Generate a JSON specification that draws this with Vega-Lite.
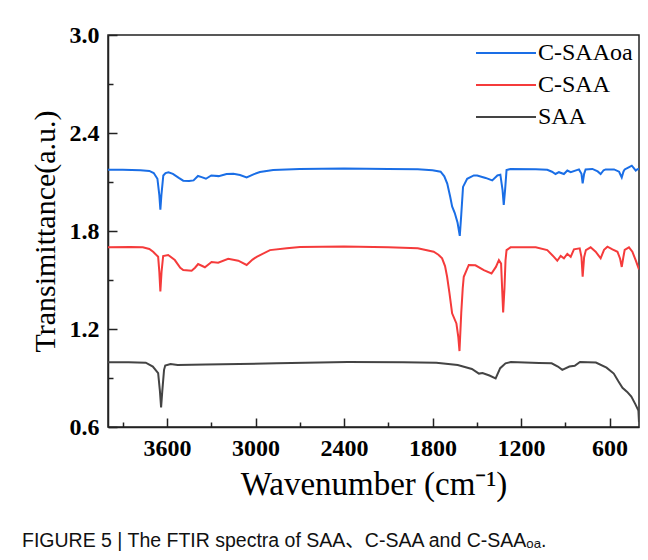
{
  "$schema": "https://vega.github.io/schema/vega-lite/v6.json",
  "width": 531,
  "height": 392,
  "autosize": {"type": "none"},
  "padding": {"left": 108, "top": 35, "right": 9, "bottom": 133},
  "background": "white",
  "config": {"view": {"stroke": "#222", "strokeWidth": 1.5}},
  "title": {
    "text": "FIGURE 5 | The FTIR spectra of SAA、C-SAA and C-SAAₒₐ.",
    "orient": "bottom", "anchor": "start", "frame": "group",
    "font": "Liberation Sans, Noto Sans CJK SC", "fontSize": 19.5, "fontWeight": "normal",
    "color": "#111", "dx": -86, "offset": 31
  },
  "datasets": {
    "spectra": [
      {"s":"C-SAAoa","x":4000,"y":2.175},{"s":"C-SAAoa","x":3900,"y":2.175},{"s":"C-SAAoa","x":3780,"y":2.172},{"s":"C-SAAoa","x":3720,"y":2.168},{"s":"C-SAAoa","x":3690,"y":2.155},{"s":"C-SAAoa","x":3665,"y":2.12},{"s":"C-SAAoa","x":3652,"y":2.02},{"s":"C-SAAoa","x":3645,"y":1.93},{"s":"C-SAAoa","x":3638,"y":2.02},{"s":"C-SAAoa","x":3625,"y":2.14},{"s":"C-SAAoa","x":3610,"y":2.155},{"s":"C-SAAoa","x":3590,"y":2.16},{"s":"C-SAAoa","x":3560,"y":2.15},{"s":"C-SAAoa","x":3520,"y":2.125},{"s":"C-SAAoa","x":3490,"y":2.108},{"s":"C-SAAoa","x":3450,"y":2.106},{"s":"C-SAAoa","x":3420,"y":2.11},{"s":"C-SAAoa","x":3390,"y":2.137},{"s":"C-SAAoa","x":3365,"y":2.13},{"s":"C-SAAoa","x":3336,"y":2.12},{"s":"C-SAAoa","x":3300,"y":2.14},{"s":"C-SAAoa","x":3250,"y":2.136},{"s":"C-SAAoa","x":3196,"y":2.149},{"s":"C-SAAoa","x":3150,"y":2.15},{"s":"C-SAAoa","x":3105,"y":2.143},{"s":"C-SAAoa","x":3060,"y":2.128},{"s":"C-SAAoa","x":3010,"y":2.148},{"s":"C-SAAoa","x":2970,"y":2.161},{"s":"C-SAAoa","x":2880,"y":2.173},{"s":"C-SAAoa","x":2700,"y":2.18},{"s":"C-SAAoa","x":2400,"y":2.183},{"s":"C-SAAoa","x":2100,"y":2.18},{"s":"C-SAAoa","x":1900,"y":2.178},{"s":"C-SAAoa","x":1800,"y":2.172},{"s":"C-SAAoa","x":1745,"y":2.163},{"s":"C-SAAoa","x":1720,"y":2.135},{"s":"C-SAAoa","x":1700,"y":2.09},{"s":"C-SAAoa","x":1680,"y":2.01},{"s":"C-SAAoa","x":1667,"y":1.95},{"s":"C-SAAoa","x":1649,"y":1.91},{"s":"C-SAAoa","x":1630,"y":1.85},{"s":"C-SAAoa","x":1615,"y":1.77},{"s":"C-SAAoa","x":1605,"y":1.9},{"s":"C-SAAoa","x":1593,"y":2.07},{"s":"C-SAAoa","x":1565,"y":2.12},{"s":"C-SAAoa","x":1520,"y":2.14},{"s":"C-SAAoa","x":1497,"y":2.14},{"s":"C-SAAoa","x":1440,"y":2.125},{"s":"C-SAAoa","x":1395,"y":2.11},{"s":"C-SAAoa","x":1360,"y":2.14},{"s":"C-SAAoa","x":1340,"y":2.145},{"s":"C-SAAoa","x":1325,"y":2.05},{"s":"C-SAAoa","x":1317,"y":1.96},{"s":"C-SAAoa","x":1308,"y":2.05},{"s":"C-SAAoa","x":1298,"y":2.173},{"s":"C-SAAoa","x":1271,"y":2.18},{"s":"C-SAAoa","x":1100,"y":2.178},{"s":"C-SAAoa","x":1022,"y":2.175},{"s":"C-SAAoa","x":990,"y":2.163},{"s":"C-SAAoa","x":966,"y":2.149},{"s":"C-SAAoa","x":943,"y":2.16},{"s":"C-SAAoa","x":909,"y":2.149},{"s":"C-SAAoa","x":886,"y":2.17},{"s":"C-SAAoa","x":863,"y":2.16},{"s":"C-SAAoa","x":807,"y":2.177},{"s":"C-SAAoa","x":790,"y":2.15},{"s":"C-SAAoa","x":782,"y":2.092},{"s":"C-SAAoa","x":772,"y":2.15},{"s":"C-SAAoa","x":762,"y":2.177},{"s":"C-SAAoa","x":716,"y":2.18},{"s":"C-SAAoa","x":680,"y":2.165},{"s":"C-SAAoa","x":660,"y":2.149},{"s":"C-SAAoa","x":640,"y":2.172},{"s":"C-SAAoa","x":626,"y":2.177},{"s":"C-SAAoa","x":569,"y":2.177},{"s":"C-SAAoa","x":535,"y":2.163},{"s":"C-SAAoa","x":517,"y":2.128},{"s":"C-SAAoa","x":505,"y":2.165},{"s":"C-SAAoa","x":497,"y":2.177},{"s":"C-SAAoa","x":470,"y":2.19},{"s":"C-SAAoa","x":449,"y":2.2},{"s":"C-SAAoa","x":435,"y":2.185},{"s":"C-SAAoa","x":422,"y":2.17},{"s":"C-SAAoa","x":410,"y":2.178},{"s":"C-SAAoa","x":400,"y":2.18},
      {"s":"C-SAA","x":4000,"y":1.7},{"s":"C-SAA","x":3850,"y":1.702},{"s":"C-SAA","x":3764,"y":1.7},{"s":"C-SAA","x":3720,"y":1.69},{"s":"C-SAA","x":3694,"y":1.673},{"s":"C-SAA","x":3660,"y":1.642},{"s":"C-SAA","x":3652,"y":1.55},{"s":"C-SAA","x":3645,"y":1.43},{"s":"C-SAA","x":3637,"y":1.55},{"s":"C-SAA","x":3626,"y":1.647},{"s":"C-SAA","x":3592,"y":1.653},{"s":"C-SAA","x":3547,"y":1.622},{"s":"C-SAA","x":3510,"y":1.575},{"s":"C-SAA","x":3490,"y":1.561},{"s":"C-SAA","x":3433,"y":1.557},{"s":"C-SAA","x":3410,"y":1.575},{"s":"C-SAA","x":3389,"y":1.598},{"s":"C-SAA","x":3343,"y":1.578},{"s":"C-SAA","x":3298,"y":1.61},{"s":"C-SAA","x":3253,"y":1.606},{"s":"C-SAA","x":3185,"y":1.63},{"s":"C-SAA","x":3117,"y":1.618},{"s":"C-SAA","x":3060,"y":1.592},{"s":"C-SAA","x":3020,"y":1.625},{"s":"C-SAA","x":2992,"y":1.642},{"s":"C-SAA","x":2902,"y":1.683},{"s":"C-SAA","x":2788,"y":1.694},{"s":"C-SAA","x":2698,"y":1.702},{"s":"C-SAA","x":2400,"y":1.705},{"s":"C-SAA","x":2100,"y":1.7},{"s":"C-SAA","x":1900,"y":1.695},{"s":"C-SAA","x":1792,"y":1.673},{"s":"C-SAA","x":1760,"y":1.655},{"s":"C-SAA","x":1735,"y":1.633},{"s":"C-SAA","x":1715,"y":1.585},{"s":"C-SAA","x":1701,"y":1.52},{"s":"C-SAA","x":1685,"y":1.42},{"s":"C-SAA","x":1667,"y":1.296},{"s":"C-SAA","x":1638,"y":1.234},{"s":"C-SAA","x":1625,"y":1.15},{"s":"C-SAA","x":1617,"y":1.065},{"s":"C-SAA","x":1605,"y":1.3},{"s":"C-SAA","x":1595,"y":1.45},{"s":"C-SAA","x":1588,"y":1.52},{"s":"C-SAA","x":1554,"y":1.592},{"s":"C-SAA","x":1509,"y":1.59},{"s":"C-SAA","x":1452,"y":1.56},{"s":"C-SAA","x":1400,"y":1.54},{"s":"C-SAA","x":1370,"y":1.58},{"s":"C-SAA","x":1350,"y":1.622},{"s":"C-SAA","x":1335,"y":1.6},{"s":"C-SAA","x":1328,"y":1.45},{"s":"C-SAA","x":1321,"y":1.302},{"s":"C-SAA","x":1312,"y":1.45},{"s":"C-SAA","x":1305,"y":1.62},{"s":"C-SAA","x":1298,"y":1.683},{"s":"C-SAA","x":1271,"y":1.7},{"s":"C-SAA","x":1100,"y":1.7},{"s":"C-SAA","x":1022,"y":1.683},{"s":"C-SAA","x":977,"y":1.642},{"s":"C-SAA","x":954,"y":1.618},{"s":"C-SAA","x":931,"y":1.647},{"s":"C-SAA","x":909,"y":1.633},{"s":"C-SAA","x":886,"y":1.66},{"s":"C-SAA","x":863,"y":1.642},{"s":"C-SAA","x":841,"y":1.688},{"s":"C-SAA","x":802,"y":1.694},{"s":"C-SAA","x":790,"y":1.64},{"s":"C-SAA","x":782,"y":1.52},{"s":"C-SAA","x":772,"y":1.64},{"s":"C-SAA","x":760,"y":1.683},{"s":"C-SAA","x":728,"y":1.7},{"s":"C-SAA","x":694,"y":1.673},{"s":"C-SAA","x":660,"y":1.633},{"s":"C-SAA","x":637,"y":1.685},{"s":"C-SAA","x":614,"y":1.704},{"s":"C-SAA","x":580,"y":1.688},{"s":"C-SAA","x":546,"y":1.673},{"s":"C-SAA","x":528,"y":1.63},{"s":"C-SAA","x":517,"y":1.58},{"s":"C-SAA","x":506,"y":1.64},{"s":"C-SAA","x":497,"y":1.685},{"s":"C-SAA","x":468,"y":1.7},{"s":"C-SAA","x":445,"y":1.673},{"s":"C-SAA","x":422,"y":1.62},{"s":"C-SAA","x":400,"y":1.565},
      {"s":"SAA","x":4000,"y":0.996},{"s":"SAA","x":3860,"y":0.996},{"s":"SAA","x":3744,"y":0.994},{"s":"SAA","x":3696,"y":0.97},{"s":"SAA","x":3660,"y":0.93},{"s":"SAA","x":3648,"y":0.82},{"s":"SAA","x":3640,"y":0.72},{"s":"SAA","x":3632,"y":0.82},{"s":"SAA","x":3620,"y":0.95},{"s":"SAA","x":3612,"y":0.976},{"s":"SAA","x":3576,"y":0.985},{"s":"SAA","x":3528,"y":0.98},{"s":"SAA","x":3336,"y":0.982},{"s":"SAA","x":2855,"y":0.99},{"s":"SAA","x":2374,"y":0.998},{"s":"SAA","x":2000,"y":0.997},{"s":"SAA","x":1774,"y":0.994},{"s":"SAA","x":1629,"y":0.98},{"s":"SAA","x":1533,"y":0.955},{"s":"SAA","x":1485,"y":0.927},{"s":"SAA","x":1461,"y":0.93},{"s":"SAA","x":1414,"y":0.915},{"s":"SAA","x":1372,"y":0.898},{"s":"SAA","x":1341,"y":0.96},{"s":"SAA","x":1305,"y":0.99},{"s":"SAA","x":1269,"y":0.998},{"s":"SAA","x":1077,"y":0.992},{"s":"SAA","x":992,"y":0.99},{"s":"SAA","x":950,"y":0.97},{"s":"SAA","x":920,"y":0.95},{"s":"SAA","x":872,"y":0.97},{"s":"SAA","x":836,"y":0.975},{"s":"SAA","x":800,"y":0.998},{"s":"SAA","x":692,"y":0.995},{"s":"SAA","x":620,"y":0.963},{"s":"SAA","x":571,"y":0.927},{"s":"SAA","x":540,"y":0.88},{"s":"SAA","x":512,"y":0.84},{"s":"SAA","x":480,"y":0.815},{"s":"SAA","x":452,"y":0.786},{"s":"SAA","x":425,"y":0.74},{"s":"SAA","x":404,"y":0.7},{"s":"SAA","x":400,"y":0.63}
    ]
  },
  "data": {"name": "spectra"},
  "resolve": {"axis": {"x": "independent", "y": "independent"}},
  "layer": [
    {
      "mark": {"type": "line", "strokeWidth": 2, "opacity": 0},
      "encoding": {
        "detail": {"field": "s", "type": "nominal"},
        "x": {
          "field": "x", "type": "quantitative",
          "scale": {"domain": [4000, 400], "nice": false, "zero": false},
          "axis": {
            "orient": "bottom",
            "values": [3900, 3300, 2700, 2100, 1500, 900],
            "labels": false, "domain": false, "grid": false, "title": null,
            "tickColor": "#222", "tickWidth": 1.5, "tickSize": -5
          }
        },
        "y": {
          "field": "y", "type": "quantitative",
          "scale": {"domain": [0.6, 3.0], "nice": false, "zero": false},
          "axis": {
            "orient": "left",
            "values": [0.9, 1.5, 2.1, 2.7],
            "labels": false, "domain": false, "grid": false, "title": null,
            "tickColor": "#222", "tickWidth": 1.5, "tickSize": -5
          }
        }
      }
    },
    {
      "mark": {"type": "line", "strokeWidth": 2, "interpolate": "linear", "clip": true},
      "encoding": {
        "x": {
          "field": "x", "type": "quantitative",
          "scale": {"domain": [4000, 400], "nice": false, "zero": false},
          "axis": {
            "orient": "bottom",
            "values": [3600, 3000, 2400, 1800, 1200, 600],
            "format": "d",
            "grid": false,
            "domainColor": "#222", "domainWidth": 1.5,
            "tickColor": "#222", "tickWidth": 1.5, "tickSize": -9,
            "labelFont": "Liberation Serif", "labelFontWeight": "bold", "labelFontSize": 24,
            "labelColor": "#000", "labelPadding": 18, "labelFlush": false, "labelOverlap": false,
            "title": "Wavenumber (cm⁻¹)",
            "titleFont": "Liberation Serif", "titleFontWeight": "normal", "titleFontSize": 33,
            "titleColor": "#000", "titlePadding": 8
          }
        },
        "y": {
          "field": "y", "type": "quantitative",
          "scale": {"domain": [0.6, 3.0], "nice": false, "zero": false},
          "axis": {
            "orient": "left",
            "values": [0.6, 1.2, 1.8, 2.4, 3.0],
            "format": ".1f",
            "grid": false,
            "domainColor": "#222", "domainWidth": 1.5,
            "tickColor": "#222", "tickWidth": 1.5, "tickSize": -9,
            "labelFont": "Liberation Serif", "labelFontWeight": "bold", "labelFontSize": 24,
            "labelColor": "#000", "labelPadding": 18, "labelFlush": false, "labelOverlap": false,
            "title": "Transimittance(a.u.)",
            "titleFont": "Liberation Serif", "titleFontWeight": "normal", "titleFontSize": 30,
            "titleColor": "#000", "titlePadding": 9
          }
        },
        "color": {
          "field": "s", "type": "nominal",
          "scale": {"domain": ["C-SAAoa", "C-SAA", "SAA"], "range": ["#1a6ee6", "#f53b3b", "#444444"]},
          "legend": {
            "orient": "top-right", "offset": 6, "title": null, "padding": 0,
            "symbolType": "M-5,0H1", "symbolSize": 400, "symbolStrokeWidth": 2,
            "labelFont": "Liberation Serif", "labelFontSize": 24, "labelColor": "#000",
            "labelOffset": 0, "rowPadding": 8
          }
        }
      }
    }
  ]
}
